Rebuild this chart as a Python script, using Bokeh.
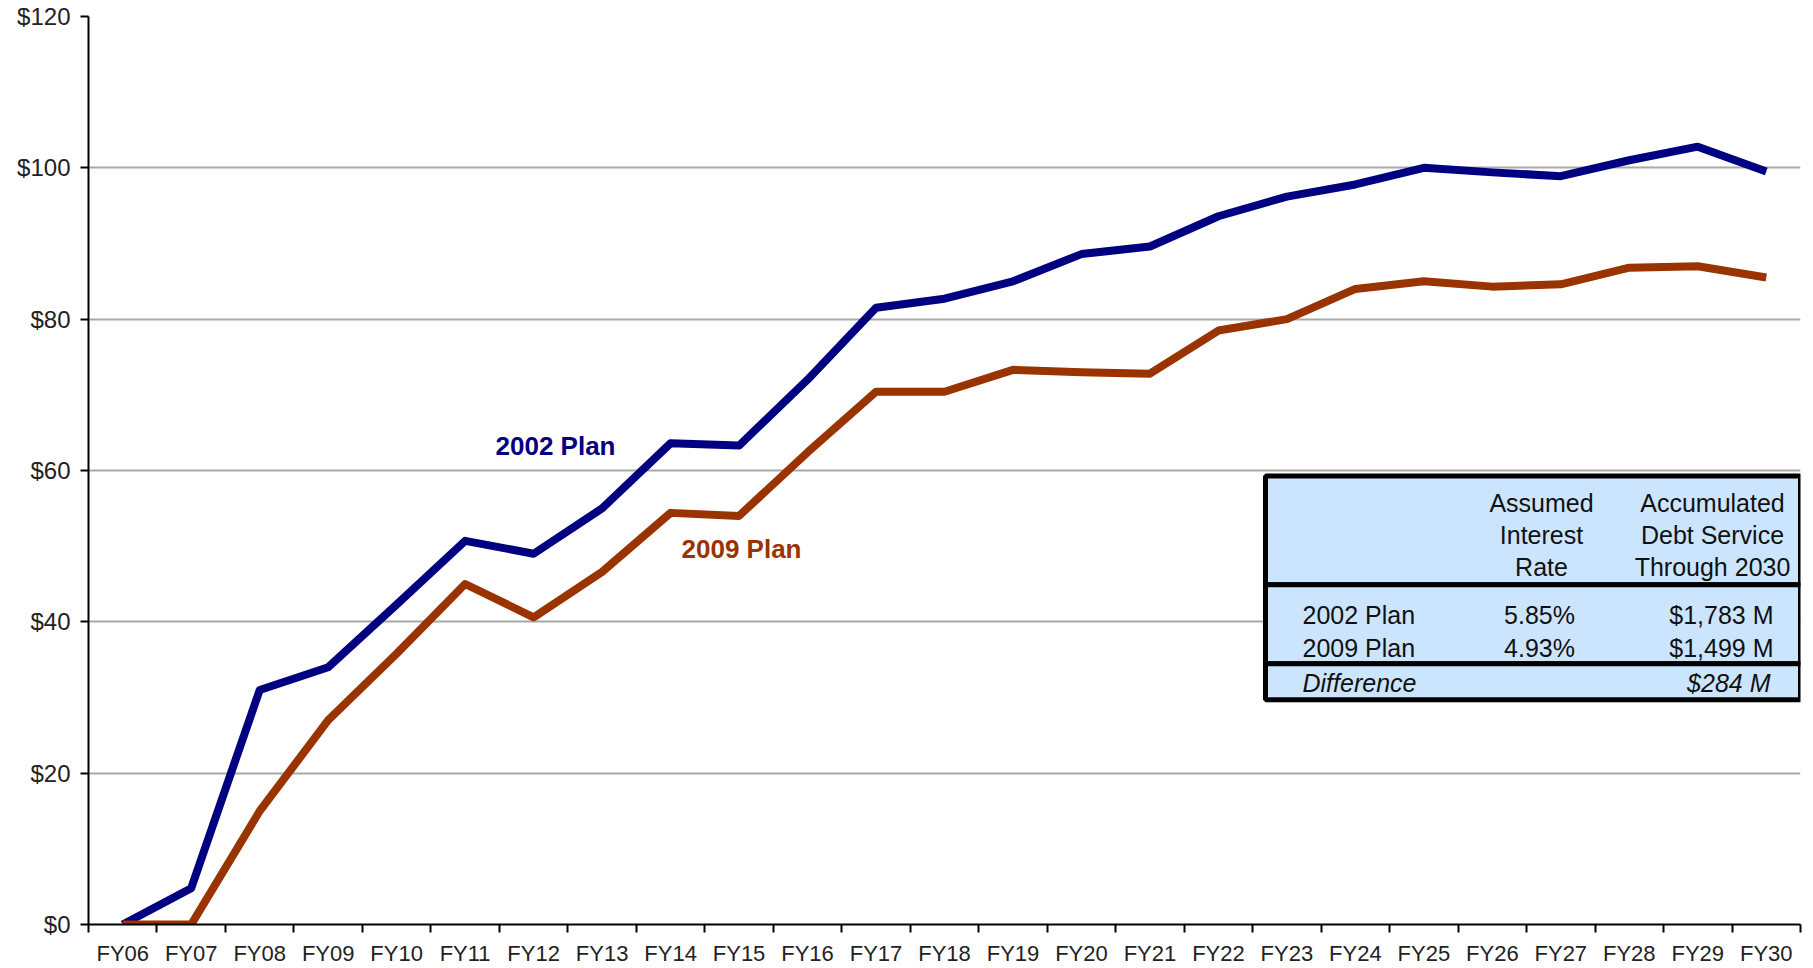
from bokeh.plotting import figure
from bokeh.models import (Range1d, FixedTicker, NumeralTickFormatter, Label, BoxAnnotation)
from bokeh.embed import file_html
from bokeh.resources import INLINE
import numpy as np

# ---------------- data ----------------
years = ["FY06", "FY07", "FY08", "FY09", "FY10", "FY11", "FY12", "FY13", "FY14", "FY15",
         "FY16", "FY17", "FY18", "FY19", "FY20", "FY21", "FY22", "FY23", "FY24", "FY25",
         "FY26", "FY27", "FY28", "FY29", "FY30"]
plan_2002 = [0, 4.8, 31, 34, 42.3, 50.7, 49, 55, 63.6, 63.3,
             72, 81.5, 82.7, 85, 88.6, 89.6, 93.6, 96.2, 97.8, 100,
             99.4, 98.9, 101, 102.8, 99.5]
plan_2009 = [0, 0, 15, 27, 35.8, 45, 40.6, 46.6, 54.4, 54,
             62.4, 70.4, 70.4, 73.3, 73, 72.8, 78.5, 80, 84, 85,
             84.3, 84.6, 86.8, 87, 85.5]
y_ticks = [0, 20, 40, 60, 80, 100, 120]

table_header_col2 = ["Assumed", "Interest", "Rate"]
table_header_col3 = ["Accumulated", "Debt Service", "Through 2030"]
table_rows = ["2002 Plan", "2009 Plan"]
table_rates = ["5.85%", "4.93%"]
table_totals = ["$1,783 M", "$1,499 M"]
diff_label = "Difference"
diff_total = "$284 M"

# ---------------- layout ----------------
FONT = "Liberation Sans"
W, H = 1813, 968
FL, FR, FT, FB = 88, 1800, 16, 925   # frame edges inside canvas
n = len(years)

p = figure(width=W, height=H, output_backend="svg", toolbar_location=None,
           x_range=Range1d(0, n), y_range=Range1d(0, 120),
           min_border_left=FL, min_border_right=W - FR,
           min_border_top=FT, min_border_bottom=H - FB)
p.outline_line_color = None
p.background_fill_color = "white"
p.border_fill_color = "white"

# helper: canvas pixel -> data coordinates (for annotation placement)
def dx(px):
    return (px - FL) / (FR - FL) * n

def dy(py):
    return (FB - py) / (FB - FT) * 120

xc = np.arange(n) + 0.5

# x axis: labels at category centres, tick marks between categories
xa = p.xaxis[0]
xa.ticker = FixedTicker(ticks=list(xc), minor_ticks=list(range(n + 1)))
xa.major_label_overrides = {float(x): lab for x, lab in zip(xc, years)}
xa.major_tick_line_color = None
xa.major_tick_out = 0
xa.major_tick_in = 0
xa.minor_tick_line_color = "black"
xa.minor_tick_line_width = 2
xa.minor_tick_out = 8
xa.minor_tick_in = 0
xa.axis_line_color = "black"
xa.axis_line_width = 2
xa.major_label_text_font = FONT
xa.major_label_text_font_size = "22px"
xa.major_label_text_color = "#222222"
xa.major_label_standoff = 8

ya = p.yaxis[0]
ya.ticker = FixedTicker(ticks=y_ticks)
ya.formatter = NumeralTickFormatter(format="$0")
ya.minor_tick_line_color = None
ya.major_tick_line_color = "black"
ya.major_tick_line_width = 2
ya.major_tick_out = 8
ya.major_tick_in = 0
ya.axis_line_color = "black"
ya.axis_line_width = 2
ya.major_label_text_font = FONT
ya.major_label_text_font_size = "24px"
ya.major_label_text_color = "#222222"
ya.major_label_standoff = 10

p.xgrid.grid_line_color = None
p.ygrid.ticker = FixedTicker(ticks=y_ticks)
p.ygrid.grid_line_color = "#a8a8a8"
p.ygrid.grid_line_width = 2

p.line(xc, plan_2002, line_color="#000080", line_width=8, line_join="round")
p.line(xc, plan_2009, line_color="#993300", line_width=8, line_join="round")

p.add_layout(Label(x=dx(495), y=dy(446), text="2002 Plan", text_font=FONT,
                   text_font_size="26px", text_font_style="bold", text_color="#000080",
                   text_baseline="alphabetic"))
p.add_layout(Label(x=dx(681), y=dy(549), text="2009 Plan", text_font=FONT,
                   text_font_size="26px", text_font_style="bold", text_color="#993300",
                   text_baseline="alphabetic"))

# ---------------- table ----------------
TL, TR = dx(1265), dx(1800)
t_top, t_sep1, t_sep2, t_bot = dy(476), dy(585), dy(664), dy(700)
fill = "#cce5ff"
for top, bot in [(t_top, t_sep1), (t_sep1, t_sep2), (t_sep2, t_bot)]:
    p.add_layout(BoxAnnotation(left=TL, right=TR, top=top, bottom=bot,
                               fill_color=fill, fill_alpha=1.0,
                               line_color="black", line_alpha=1.0, line_width=5,
                               level="annotation"))

tstyle = dict(text_font=FONT, text_font_size="25px", text_color="#111111",
              text_baseline="middle")
col2_x = dx(1541)
col3_x = dx(1712)
for i, (a, b) in enumerate(zip(table_header_col2, table_header_col3)):
    yy = dy(503 + 32 * i)
    p.add_layout(Label(x=col2_x, y=yy, text=a, text_align="center", **tstyle))
    p.add_layout(Label(x=col3_x, y=yy, text=b, text_align="center", **tstyle))

row_y = [615, 648]
for r, rate, tot, py in zip(table_rows, table_rates, table_totals, row_y):
    p.add_layout(Label(x=dx(1302), y=dy(py), text=r, text_align="left", **tstyle))
    p.add_layout(Label(x=dx(1539), y=dy(py), text=rate, text_align="center", **tstyle))
    p.add_layout(Label(x=dx(1773), y=dy(py), text=tot, text_align="right", **tstyle))

p.add_layout(Label(x=dx(1302), y=dy(683), text=diff_label, text_align="left",
                   text_font_style="italic", **tstyle))
p.add_layout(Label(x=dx(1770), y=dy(683), text=diff_total, text_align="right",
                   text_font_style="italic", **tstyle))

open("out.html", "w").write(file_html(p, INLINE))
